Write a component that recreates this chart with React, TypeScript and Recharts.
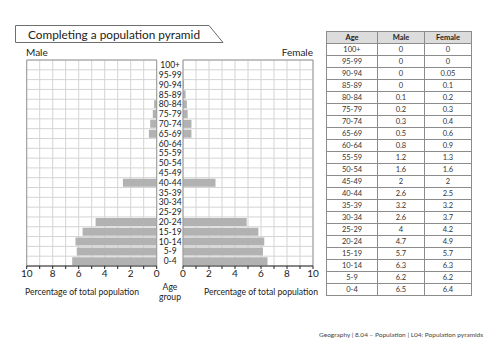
import { BarChart, Bar, XAxis, YAxis, CartesianGrid, ReferenceLine } from "recharts";

const AGE_GROUPS = [
  "100+", "95-99", "90-94", "85-89", "80-84", "75-79", "70-74", "65-69",
  "60-64", "55-59", "50-54", "45-49", "40-44", "35-39", "30-34", "25-29",
  "20-24", "15-19", "10-14", "5-9", "0-4",
];

// bars already drawn on the pyramid (null = still to complete)
const MALE_DRAWN = [
  0, 0, 0, 0, 0.2, 0.3, 0.5, 0.6,
  null, null, null, null, 2.6, null, null, null,
  4.7, 5.7, 6.25, 6.15, 6.5,
];
const FEMALE_DRAWN = [
  0, 0, 0.08, 0.2, 0.3, 0.36, 0.65, 0.65,
  null, null, null, null, 2.5, null, null, null,
  4.9, 5.8, 6.25, 6.15, 6.5,
];

// values in the data table
const MALE_TABLE = [
  "0", "0", "0", "0", "0.1", "0.2", "0.3", "0.5", "0.8", "1.2", "1.6",
  "2", "2.6", "3.2", "2.6", "4", "4.7", "5.7", "6.3", "6.2", "6.5",
];
const FEMALE_TABLE = [
  "0", "0", "0.05", "0.1", "0.2", "0.3", "0.4", "0.6", "0.9", "1.3", "1.6",
  "2", "2.5", "3.2", "3.7", "4.2", "4.9", "5.7", "6.3", "6.2", "6.4",
];

const X_TICKS = [0, 1, 2, 3, 4, 5, 6, 7, 8, 9, 10];

const FONT = "Lato, 'Open Sans', sans-serif";
const BAR_FILL = "#b2b2b2";
const GRID = "#d4d4d4";
const EDGE = "#9a9a9a";

const data = AGE_GROUPS.map((age, i) => ({
  age,
  male: MALE_DRAWN[i],
  female: FEMALE_DRAWN[i],
}));

// grid lines on the row boundaries rather than row centres
const rowEdges = ({ offset }: any) => {
  const n = AGE_GROUPS.length;
  const step = offset.height / n;
  return Array.from({ length: n + 1 }, (_, i) => offset.top + i * step);
};

const evenOnly = (v: number) => (v % 2 === 0 ? String(v) : "");

const AgeTick = ({ x, y, payload }: any) => (
  <text x={x + 13.5} y={y} dy={3.2} textAnchor="middle" fontSize={8.5} fill="#222" fontFamily={FONT}>
    {payload.value}
  </text>
);

function Panel({ side }: { side: "male" | "female" }) {
  const isMale = side === "male";
  return (
    <BarChart
      width={isMale ? 183 : 151}
      height={230}
      data={data}
      layout="vertical"
      barCategoryGap={1}
      margin={isMale ? { top: 5, right: 0, bottom: 0, left: 26.7 } : { top: 5, right: 15, bottom: 0, left: 6 }}
    >
      <CartesianGrid
        stroke={GRID}
        strokeWidth={1}
        horizontalCoordinatesGenerator={rowEdges}
      />
      <XAxis
        type="number"
        domain={[0, 10]}
        ticks={X_TICKS}
        reversed={isMale}
        tickFormatter={evenOnly}
        height={19}
        interval={0}
        tickSize={3}
        tickMargin={1}
        axisLine={{ stroke: "#222" }}
        tickLine={{ stroke: "#222" }}
        tick={{ fontSize: 10, fill: "#222", fontFamily: FONT }}
        allowDataOverflow
      />
      <YAxis
        type="category"
        dataKey="age"
        orientation="right"
        width={isMale ? 26.3 : 0}
        hide={!isMale}
        tickSize={0}
        tickMargin={0}
        axisLine={false}
        tickLine={false}
        interval={0}
        tick={<AgeTick />}
      />
      <ReferenceLine x={0} stroke={EDGE} />
      <ReferenceLine x={10} stroke={EDGE} />
      <ReferenceLine y="100+" position="start" stroke={EDGE} />
      <Bar dataKey={side} fill={BAR_FILL} isAnimationActive={false} />
    </BarChart>
  );
}

const cell: React.CSSProperties = {
  border: "1px solid #8c8c8c",
  height: 11,
  padding: 0,
  textAlign: "center",
  fontSize: 7.5,
  color: "#333",
  lineHeight: "11px",
};

export default function App() {
  return (
    <div style={{ position: "absolute", left: 0, top: 0, width: 500, height: 353, background: "#fff", fontFamily: FONT, overflow: "hidden" }}>
      <svg width={500} height={60} style={{ position: "absolute", left: 0, top: 0 }}>
        <polygon points="15.5,25.5 209,25.5 223,42.5 15.5,42.5" fill="#fff" stroke="#6e6e6e" strokeWidth={1} />
        <text x={28} y={38.5} fontSize={11.8} fill="#222" fontFamily={FONT}>
          Completing a population pyramid
        </text>
        <text x={26} y={56} fontSize={10} fill="#222" fontFamily={FONT}>Male</text>
        <text x={313} y={56} fontSize={10} fill="#222" fontFamily={FONT} textAnchor="end">Female</text>
      </svg>

      <div style={{ position: "absolute", left: 0, top: 55 }}>
        <Panel side="male" />
      </div>
      <div style={{ position: "absolute", left: 177.3, top: 55 }}>
        <Panel side="female" />
      </div>

      <svg width={340} height={60} style={{ position: "absolute", left: 0, top: 280 }}>
        <text x={82} y={15} fontSize={8.6} fill="#222" fontFamily={FONT} textAnchor="middle">
          Percentage of total population
        </text>
        <text x={261} y={15} fontSize={8.6} fill="#222" fontFamily={FONT} textAnchor="middle">
          Percentage of total population
        </text>
        <text x={170} y={10} fontSize={8.6} fill="#222" fontFamily={FONT} textAnchor="middle">Age</text>
        <text x={170} y={20} fontSize={8.6} fill="#222" fontFamily={FONT} textAnchor="middle">group</text>
      </svg>

      <table
        style={{
          position: "absolute",
          left: 326,
          top: 31,
          width: 145,
          borderCollapse: "collapse",
          tableLayout: "fixed",
          fontFamily: FONT,
        }}
      >
        <colgroup>
          <col style={{ width: 51 }} />
          <col style={{ width: 47 }} />
          <col style={{ width: 47 }} />
        </colgroup>
        <thead>
          <tr>
            {["Age", "Male", "Female"].map((h) => (
              <th key={h} style={{ ...cell, background: "#dcdcdc", fontWeight: 700, color: "#222" }}>{h}</th>
            ))}
          </tr>
        </thead>
        <tbody>
          {AGE_GROUPS.map((age, i) => (
            <tr key={age}>
              <td style={cell}>{age}</td>
              <td style={cell}>{MALE_TABLE[i]}</td>
              <td style={cell}>{FEMALE_TABLE[i]}</td>
            </tr>
          ))}
        </tbody>
      </table>

      <div style={{ position: "absolute", left: 319, top: 331, fontSize: 6.5, color: "#444", whiteSpace: "nowrap" }}>
        Geography | 8.04 – Population | L04: Population pyramids
      </div>
    </div>
  );
}
